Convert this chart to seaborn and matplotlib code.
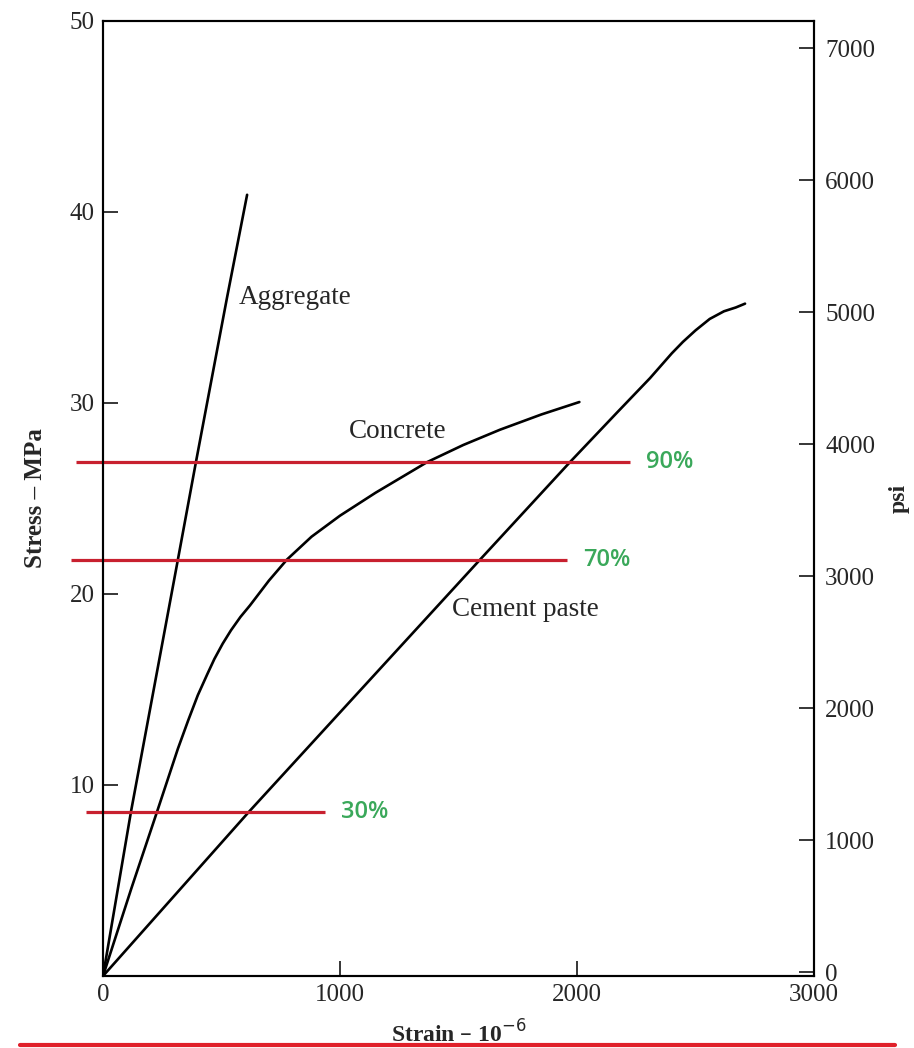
import matplotlib
matplotlib.use('Agg')
import matplotlib.pyplot as plt
from matplotlib.lines import Line2D
import seaborn as sns

# curves (strain in 1e-6, stress in MPa)
aggregate_strain = [0, 118, 316, 392, 523, 608]
aggregate_stress = [0, 8.6, 21.8, 26.9, 35.5, 40.9]

concrete_strain = [0, 120, 228, 316, 360, 400, 440, 470, 505, 540, 580, 620, 700, 776,
                   880, 1000, 1150, 1367, 1520, 1675, 1850, 2010]
concrete_stress = [0, 4.6, 8.6, 11.9, 13.4, 14.7, 15.8, 16.6, 17.4, 18.1, 18.8, 19.4,
                   20.7, 21.8, 23.0, 24.1, 25.3, 26.9, 27.8, 28.6, 29.4, 30.05]

cement_strain = [0, 616, 1000, 1591, 1970, 2169, 2308, 2400, 2447, 2500, 2560, 2620, 2670, 2709]
cement_stress = [0, 8.6, 13.8, 21.8, 26.9, 29.5, 31.3, 32.6, 33.2, 33.8, 34.4, 34.8, 35.0, 35.2]

# red reference levels (percent of concrete strength)
level_labels = ['90%', '70%', '30%']
level_stress = [26.9, 21.8, 8.6]
level_start = [-114, -135, -72]
level_end = [2224, 1958, 937]

x_ticks = [0, 1000, 2000, 3000]
y_ticks = [10, 20, 30, 40, 50]
psi_ticks = [0, 1000, 2000, 3000, 4000, 5000, 6000, 7000]

sns.set_theme(style='ticks')
plt.rcParams['font.family'] = ['Liberation Serif', 'DejaVu Serif']

fig = plt.figure(figsize=(9.14, 10.48), dpi=100)
ax = fig.add_axes([0.1127, 0.0687, 0.7779, 0.9113])

for xs, ys in [(aggregate_strain, aggregate_stress),
               (concrete_strain, concrete_stress),
               (cement_strain, cement_stress)]:
    sns.lineplot(x=xs, y=ys, ax=ax, color='black', linewidth=1.9,
                 sort=False, estimator=None)

for lab, v, x0, x1 in zip(level_labels, level_stress, level_start, level_end):
    ax.plot([x0, x1], [v, v], color='#c8202f', linewidth=2.3, clip_on=False,
            solid_capstyle='butt')
    ax.text(x1 + 67, v, lab, color='#3aa85a', fontsize=17, fontweight='semibold',
            family=['Open Sans', 'DejaVu Sans'], ha='left', va='center')

ax.text(574, 35.5, 'Aggregate', fontsize=19.5, ha='left', va='center')
ax.text(1038, 28.5, 'Concrete', fontsize=19.5, ha='left', va='center')
ax.text(1472, 19.2, 'Cement paste', fontsize=19.5, ha='left', va='center')

ax.set_xlim(0, 3000)
ax.set_ylim(0, 50)
ax.set_xticks(x_ticks)
ax.set_yticks(y_ticks)
ax.tick_params(direction='in', length=11, width=1.3, labelsize=18, pad=6)
ax.tick_params(axis='y', right=False)
ax.set_xlabel('Strain – 10$^{-6}$', fontsize=17, fontweight='bold', labelpad=10)
ax.set_ylabel('Stress – MPa', fontsize=18, fontweight='bold', labelpad=16)

ax2 = ax.twinx()
ax2.set_ylim(-30, 7205)
ax2.set_yticks(psi_ticks)
ax2.tick_params(direction='in', length=11, width=1.3, labelsize=18, pad=8)
ax2.set_ylabel('psi', fontsize=17, fontweight='bold', labelpad=10)

for a in (ax, ax2):
    for sp in a.spines.values():
        sp.set_visible(True)
        sp.set_linewidth(1.5)
        sp.set_color('black')

# red underline below the x label
fig.add_artist(Line2D([0.022, 0.979], [0.003, 0.003], color='#e0202a',
                      linewidth=3, transform=fig.transFigure))

fig.savefig('out.png', dpi=100)
